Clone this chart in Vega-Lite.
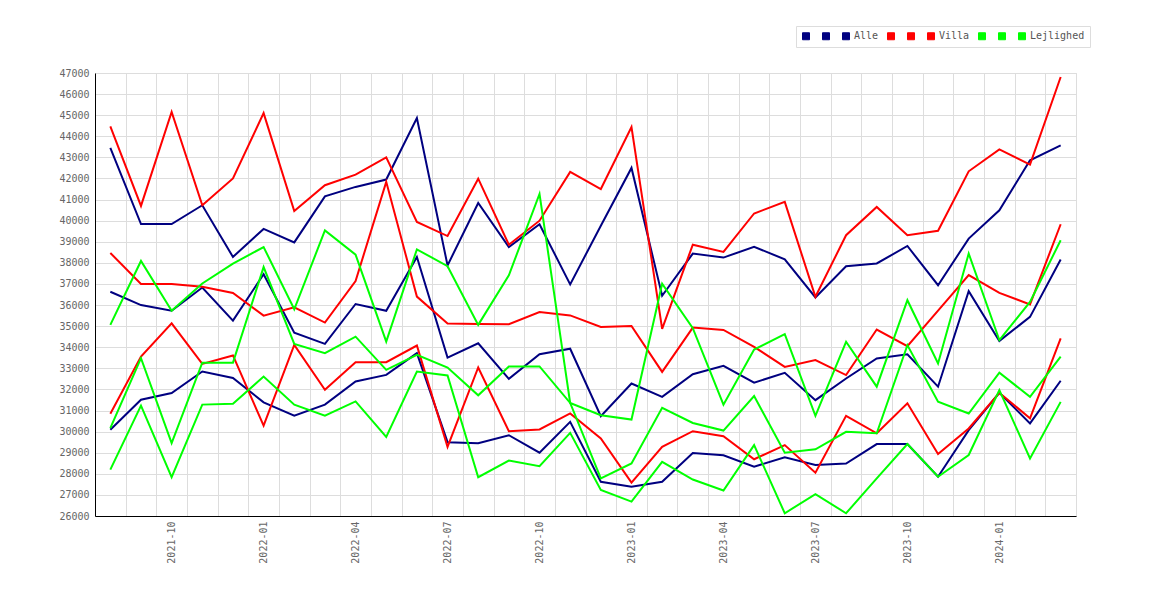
{
  "$schema": "https://vega.github.io/schema/vega-lite/v6.json",
  "width": 981,
  "height": 443,
  "autosize": {"type": "none"},
  "padding": {"left": 95, "top": 73, "right": 94, "bottom": 84},
  "background": "#ffffff",
  "data": {
    "values": [
      {"month": "2021-08", "series": "Alle A", "value": 43450}, {"month": "2021-09", "series": "Alle A", "value": 39840}, {"month": "2021-10", "series": "Alle A", "value": 39840}, {"month": "2021-11", "series": "Alle A", "value": 40730},
      {"month": "2021-12", "series": "Alle A", "value": 38280}, {"month": "2022-01", "series": "Alle A", "value": 39610}, {"month": "2022-02", "series": "Alle A", "value": 38970}, {"month": "2022-03", "series": "Alle A", "value": 41150},
      {"month": "2022-04", "series": "Alle A", "value": 41600}, {"month": "2022-05", "series": "Alle A", "value": 41950}, {"month": "2022-06", "series": "Alle A", "value": 44870}, {"month": "2022-07", "series": "Alle A", "value": 37880},
      {"month": "2022-08", "series": "Alle A", "value": 40840}, {"month": "2022-09", "series": "Alle A", "value": 38750}, {"month": "2022-10", "series": "Alle A", "value": 39830}, {"month": "2022-11", "series": "Alle A", "value": 36980},
      {"month": "2022-12", "series": "Alle A", "value": 39760}, {"month": "2023-01", "series": "Alle A", "value": 42500}, {"month": "2023-02", "series": "Alle A", "value": 36440}, {"month": "2023-03", "series": "Alle A", "value": 38440},
      {"month": "2023-04", "series": "Alle A", "value": 38250}, {"month": "2023-05", "series": "Alle A", "value": 38760}, {"month": "2023-06", "series": "Alle A", "value": 38170}, {"month": "2023-07", "series": "Alle A", "value": 36360},
      {"month": "2023-08", "series": "Alle A", "value": 37840}, {"month": "2023-09", "series": "Alle A", "value": 37970}, {"month": "2023-10", "series": "Alle A", "value": 38800}, {"month": "2023-11", "series": "Alle A", "value": 36940},
      {"month": "2023-12", "series": "Alle A", "value": 39150}, {"month": "2024-01", "series": "Alle A", "value": 40490}, {"month": "2024-02", "series": "Alle A", "value": 42860}, {"month": "2024-03", "series": "Alle A", "value": 43570},

      {"month": "2021-08", "series": "Alle B", "value": 30090}, {"month": "2021-09", "series": "Alle B", "value": 31510}, {"month": "2021-10", "series": "Alle B", "value": 31830}, {"month": "2021-11", "series": "Alle B", "value": 32850},
      {"month": "2021-12", "series": "Alle B", "value": 32540}, {"month": "2022-01", "series": "Alle B", "value": 31390}, {"month": "2022-02", "series": "Alle B", "value": 30760}, {"month": "2022-03", "series": "Alle B", "value": 31280},
      {"month": "2022-04", "series": "Alle B", "value": 32380}, {"month": "2022-05", "series": "Alle B", "value": 32690}, {"month": "2022-06", "series": "Alle B", "value": 33720}, {"month": "2022-07", "series": "Alle B", "value": 29500},
      {"month": "2022-08", "series": "Alle B", "value": 29450}, {"month": "2022-09", "series": "Alle B", "value": 29830}, {"month": "2022-10", "series": "Alle B", "value": 29000}, {"month": "2022-11", "series": "Alle B", "value": 30460},
      {"month": "2022-12", "series": "Alle B", "value": 27620}, {"month": "2023-01", "series": "Alle B", "value": 27390}, {"month": "2023-02", "series": "Alle B", "value": 27620}, {"month": "2023-03", "series": "Alle B", "value": 28990},
      {"month": "2023-04", "series": "Alle B", "value": 28880}, {"month": "2023-05", "series": "Alle B", "value": 28340}, {"month": "2023-06", "series": "Alle B", "value": 28780}, {"month": "2023-07", "series": "Alle B", "value": 28420},
      {"month": "2023-08", "series": "Alle B", "value": 28490}, {"month": "2023-09", "series": "Alle B", "value": 29410}, {"month": "2023-10", "series": "Alle B", "value": 29410}, {"month": "2023-11", "series": "Alle B", "value": 27860},
      {"month": "2023-12", "series": "Alle B", "value": 30070}, {"month": "2024-01", "series": "Alle B", "value": 31840}, {"month": "2024-02", "series": "Alle B", "value": 30390}, {"month": "2024-03", "series": "Alle B", "value": 32410},

      {"month": "2021-08", "series": "Alle", "value": 36630}, {"month": "2021-09", "series": "Alle", "value": 36000}, {"month": "2021-10", "series": "Alle", "value": 35730}, {"month": "2021-11", "series": "Alle", "value": 36830},
      {"month": "2021-12", "series": "Alle", "value": 35260}, {"month": "2022-01", "series": "Alle", "value": 37460}, {"month": "2022-02", "series": "Alle", "value": 34690}, {"month": "2022-03", "series": "Alle", "value": 34160},
      {"month": "2022-04", "series": "Alle", "value": 36050}, {"month": "2022-05", "series": "Alle", "value": 35730}, {"month": "2022-06", "series": "Alle", "value": 38280}, {"month": "2022-07", "series": "Alle", "value": 33510},
      {"month": "2022-08", "series": "Alle", "value": 34190}, {"month": "2022-09", "series": "Alle", "value": 32500}, {"month": "2022-10", "series": "Alle", "value": 33670}, {"month": "2022-11", "series": "Alle", "value": 33930},
      {"month": "2022-12", "series": "Alle", "value": 30730}, {"month": "2023-01", "series": "Alle", "value": 32280}, {"month": "2023-02", "series": "Alle", "value": 31650}, {"month": "2023-03", "series": "Alle", "value": 32720},
      {"month": "2023-04", "series": "Alle", "value": 33120}, {"month": "2023-05", "series": "Alle", "value": 32320}, {"month": "2023-06", "series": "Alle", "value": 32790}, {"month": "2023-07", "series": "Alle", "value": 31490},
      {"month": "2023-08", "series": "Alle", "value": 32520}, {"month": "2023-09", "series": "Alle", "value": 33470}, {"month": "2023-10", "series": "Alle", "value": 33670}, {"month": "2023-11", "series": "Alle", "value": 32130},
      {"month": "2023-12", "series": "Alle", "value": 36660}, {"month": "2024-01", "series": "Alle", "value": 34300}, {"month": "2024-02", "series": "Alle", "value": 35440}, {"month": "2024-03", "series": "Alle", "value": 38160},

      {"month": "2021-08", "series": "Villa A", "value": 44470}, {"month": "2021-09", "series": "Villa A", "value": 40700}, {"month": "2021-10", "series": "Villa A", "value": 45150}, {"month": "2021-11", "series": "Villa A", "value": 40730},
      {"month": "2021-12", "series": "Villa A", "value": 42000}, {"month": "2022-01", "series": "Villa A", "value": 45100}, {"month": "2022-02", "series": "Villa A", "value": 40460}, {"month": "2022-03", "series": "Villa A", "value": 41680},
      {"month": "2022-04", "series": "Villa A", "value": 42180}, {"month": "2022-05", "series": "Villa A", "value": 43000}, {"month": "2022-06", "series": "Villa A", "value": 39940}, {"month": "2022-07", "series": "Villa A", "value": 39270},
      {"month": "2022-08", "series": "Villa A", "value": 41990}, {"month": "2022-09", "series": "Villa A", "value": 38860}, {"month": "2022-10", "series": "Villa A", "value": 40000}, {"month": "2022-11", "series": "Villa A", "value": 42310},
      {"month": "2022-12", "series": "Villa A", "value": 41500}, {"month": "2023-01", "series": "Villa A", "value": 44440}, {"month": "2023-02", "series": "Villa A", "value": 34870}, {"month": "2023-03", "series": "Villa A", "value": 38860},
      {"month": "2023-04", "series": "Villa A", "value": 38520}, {"month": "2023-05", "series": "Villa A", "value": 40340}, {"month": "2023-06", "series": "Villa A", "value": 40890}, {"month": "2023-07", "series": "Villa A", "value": 36390},
      {"month": "2023-08", "series": "Villa A", "value": 39310}, {"month": "2023-09", "series": "Villa A", "value": 40650}, {"month": "2023-10", "series": "Villa A", "value": 39310}, {"month": "2023-11", "series": "Villa A", "value": 39520},
      {"month": "2023-12", "series": "Villa A", "value": 42340}, {"month": "2024-01", "series": "Villa A", "value": 43380}, {"month": "2024-02", "series": "Villa A", "value": 42660}, {"month": "2024-03", "series": "Villa A", "value": 46810},

      {"month": "2021-08", "series": "Villa B", "value": 30850}, {"month": "2021-09", "series": "Villa B", "value": 33560}, {"month": "2021-10", "series": "Villa B", "value": 35130}, {"month": "2021-11", "series": "Villa B", "value": 33210},
      {"month": "2021-12", "series": "Villa B", "value": 33610}, {"month": "2022-01", "series": "Villa B", "value": 30280}, {"month": "2022-02", "series": "Villa B", "value": 34110}, {"month": "2022-03", "series": "Villa B", "value": 31980},
      {"month": "2022-04", "series": "Villa B", "value": 33290}, {"month": "2022-05", "series": "Villa B", "value": 33290}, {"month": "2022-06", "series": "Villa B", "value": 34080}, {"month": "2022-07", "series": "Villa B", "value": 29280},
      {"month": "2022-08", "series": "Villa B", "value": 33040}, {"month": "2022-09", "series": "Villa B", "value": 30020}, {"month": "2022-10", "series": "Villa B", "value": 30100}, {"month": "2022-11", "series": "Villa B", "value": 30860},
      {"month": "2022-12", "series": "Villa B", "value": 29680}, {"month": "2023-01", "series": "Villa B", "value": 27580}, {"month": "2023-02", "series": "Villa B", "value": 29280}, {"month": "2023-03", "series": "Villa B", "value": 30020},
      {"month": "2023-04", "series": "Villa B", "value": 29780}, {"month": "2023-05", "series": "Villa B", "value": 28690}, {"month": "2023-06", "series": "Villa B", "value": 29360}, {"month": "2023-07", "series": "Villa B", "value": 28050},
      {"month": "2023-08", "series": "Villa B", "value": 30750}, {"month": "2023-09", "series": "Villa B", "value": 29920}, {"month": "2023-10", "series": "Villa B", "value": 31340}, {"month": "2023-11", "series": "Villa B", "value": 28940},
      {"month": "2023-12", "series": "Villa B", "value": 30150}, {"month": "2024-01", "series": "Villa B", "value": 31840}, {"month": "2024-02", "series": "Villa B", "value": 30630}, {"month": "2024-03", "series": "Villa B", "value": 34420},

      {"month": "2021-08", "series": "Villa", "value": 38470}, {"month": "2021-09", "series": "Villa", "value": 37000}, {"month": "2021-10", "series": "Villa", "value": 37000}, {"month": "2021-11", "series": "Villa", "value": 36870},
      {"month": "2021-12", "series": "Villa", "value": 36570}, {"month": "2022-01", "series": "Villa", "value": 35500}, {"month": "2022-02", "series": "Villa", "value": 35890}, {"month": "2022-03", "series": "Villa", "value": 35170},
      {"month": "2022-04", "series": "Villa", "value": 37140}, {"month": "2022-05", "series": "Villa", "value": 41840}, {"month": "2022-06", "series": "Villa", "value": 36400}, {"month": "2022-07", "series": "Villa", "value": 35130},
      {"month": "2022-08", "series": "Villa", "value": 35100}, {"month": "2022-09", "series": "Villa", "value": 35090}, {"month": "2022-10", "series": "Villa", "value": 35670}, {"month": "2022-11", "series": "Villa", "value": 35510},
      {"month": "2022-12", "series": "Villa", "value": 34960}, {"month": "2023-01", "series": "Villa", "value": 35010}, {"month": "2023-02", "series": "Villa", "value": 32830}, {"month": "2023-03", "series": "Villa", "value": 34930},
      {"month": "2023-04", "series": "Villa", "value": 34820}, {"month": "2023-05", "series": "Villa", "value": 34020}, {"month": "2023-06", "series": "Villa", "value": 33070}, {"month": "2023-07", "series": "Villa", "value": 33390},
      {"month": "2023-08", "series": "Villa", "value": 32680}, {"month": "2023-09", "series": "Villa", "value": 34840}, {"month": "2023-10", "series": "Villa", "value": 34050}, {"month": "2023-11", "series": "Villa", "value": 35740},
      {"month": "2023-12", "series": "Villa", "value": 37420}, {"month": "2024-01", "series": "Villa", "value": 36580}, {"month": "2024-02", "series": "Villa", "value": 36030}, {"month": "2024-03", "series": "Villa", "value": 39830},

      {"month": "2021-08", "series": "Lejlighed A", "value": 35060}, {"month": "2021-09", "series": "Lejlighed A", "value": 38090}, {"month": "2021-10", "series": "Lejlighed A", "value": 35730}, {"month": "2021-11", "series": "Lejlighed A", "value": 37020},
      {"month": "2021-12", "series": "Lejlighed A", "value": 37960}, {"month": "2022-01", "series": "Lejlighed A", "value": 38750}, {"month": "2022-02", "series": "Lejlighed A", "value": 35800}, {"month": "2022-03", "series": "Lejlighed A", "value": 39540},
      {"month": "2022-04", "series": "Lejlighed A", "value": 38390}, {"month": "2022-05", "series": "Lejlighed A", "value": 34270}, {"month": "2022-06", "series": "Lejlighed A", "value": 38640}, {"month": "2022-07", "series": "Lejlighed A", "value": 37840},
      {"month": "2022-08", "series": "Lejlighed A", "value": 35060}, {"month": "2022-09", "series": "Lejlighed A", "value": 37410}, {"month": "2022-10", "series": "Lejlighed A", "value": 41270}, {"month": "2022-11", "series": "Lejlighed A", "value": 31360},
      {"month": "2022-12", "series": "Lejlighed A", "value": 30780}, {"month": "2023-01", "series": "Lejlighed A", "value": 30570}, {"month": "2023-02", "series": "Lejlighed A", "value": 37010}, {"month": "2023-03", "series": "Lejlighed A", "value": 34900},
      {"month": "2023-04", "series": "Lejlighed A", "value": 31280}, {"month": "2023-05", "series": "Lejlighed A", "value": 33890}, {"month": "2023-06", "series": "Lejlighed A", "value": 34620}, {"month": "2023-07", "series": "Lejlighed A", "value": 30750},
      {"month": "2023-08", "series": "Lejlighed A", "value": 34260}, {"month": "2023-09", "series": "Lejlighed A", "value": 32130}, {"month": "2023-10", "series": "Lejlighed A", "value": 36230}, {"month": "2023-11", "series": "Lejlighed A", "value": 33230},
      {"month": "2023-12", "series": "Lejlighed A", "value": 38440}, {"month": "2024-01", "series": "Lejlighed A", "value": 34340}, {"month": "2024-02", "series": "Lejlighed A", "value": 36150}, {"month": "2024-03", "series": "Lejlighed A", "value": 39070},

      {"month": "2021-08", "series": "Lejlighed B", "value": 28200}, {"month": "2021-09", "series": "Lejlighed B", "value": 31230}, {"month": "2021-10", "series": "Lejlighed B", "value": 27840}, {"month": "2021-11", "series": "Lejlighed B", "value": 31280},
      {"month": "2021-12", "series": "Lejlighed B", "value": 31320}, {"month": "2022-01", "series": "Lejlighed B", "value": 32610}, {"month": "2022-02", "series": "Lejlighed B", "value": 31280}, {"month": "2022-03", "series": "Lejlighed B", "value": 30760},
      {"month": "2022-04", "series": "Lejlighed B", "value": 31430}, {"month": "2022-05", "series": "Lejlighed B", "value": 29750}, {"month": "2022-06", "series": "Lejlighed B", "value": 32850}, {"month": "2022-07", "series": "Lejlighed B", "value": 32660},
      {"month": "2022-08", "series": "Lejlighed B", "value": 27840}, {"month": "2022-09", "series": "Lejlighed B", "value": 28630}, {"month": "2022-10", "series": "Lejlighed B", "value": 28360}, {"month": "2022-11", "series": "Lejlighed B", "value": 29940},
      {"month": "2022-12", "series": "Lejlighed B", "value": 27230}, {"month": "2023-01", "series": "Lejlighed B", "value": 26680}, {"month": "2023-02", "series": "Lejlighed B", "value": 28570}, {"month": "2023-03", "series": "Lejlighed B", "value": 27730},
      {"month": "2023-04", "series": "Lejlighed B", "value": 27210}, {"month": "2023-05", "series": "Lejlighed B", "value": 29360}, {"month": "2023-06", "series": "Lejlighed B", "value": 26130}, {"month": "2023-07", "series": "Lejlighed B", "value": 27040},
      {"month": "2023-08", "series": "Lejlighed B", "value": 26130}, {"month": "2023-09", "series": "Lejlighed B", "value": 27780}, {"month": "2023-10", "series": "Lejlighed B", "value": 29410}, {"month": "2023-11", "series": "Lejlighed B", "value": 27860},
      {"month": "2023-12", "series": "Lejlighed B", "value": 28890}, {"month": "2024-01", "series": "Lejlighed B", "value": 31970}, {"month": "2024-02", "series": "Lejlighed B", "value": 28730}, {"month": "2024-03", "series": "Lejlighed B", "value": 31410},

      {"month": "2021-08", "series": "Lejlighed", "value": 30170}, {"month": "2021-09", "series": "Lejlighed", "value": 33480}, {"month": "2021-10", "series": "Lejlighed", "value": 29460}, {"month": "2021-11", "series": "Lejlighed", "value": 33270},
      {"month": "2021-12", "series": "Lejlighed", "value": 33270}, {"month": "2022-01", "series": "Lejlighed", "value": 37800}, {"month": "2022-02", "series": "Lejlighed", "value": 34160}, {"month": "2022-03", "series": "Lejlighed", "value": 33720},
      {"month": "2022-04", "series": "Lejlighed", "value": 34500}, {"month": "2022-05", "series": "Lejlighed", "value": 32930}, {"month": "2022-06", "series": "Lejlighed", "value": 33640}, {"month": "2022-07", "series": "Lejlighed", "value": 33040},
      {"month": "2022-08", "series": "Lejlighed", "value": 31720}, {"month": "2022-09", "series": "Lejlighed", "value": 33090}, {"month": "2022-10", "series": "Lejlighed", "value": 33090}, {"month": "2022-11", "series": "Lejlighed", "value": 31360},
      {"month": "2022-12", "series": "Lejlighed", "value": 27780}, {"month": "2023-01", "series": "Lejlighed", "value": 28490}, {"month": "2023-02", "series": "Lejlighed", "value": 31130}, {"month": "2023-03", "series": "Lejlighed", "value": 30410},
      {"month": "2023-04", "series": "Lejlighed", "value": 30050}, {"month": "2023-05", "series": "Lejlighed", "value": 31690}, {"month": "2023-06", "series": "Lejlighed", "value": 29000}, {"month": "2023-07", "series": "Lejlighed", "value": 29160},
      {"month": "2023-08", "series": "Lejlighed", "value": 29990}, {"month": "2023-09", "series": "Lejlighed", "value": 29920}, {"month": "2023-10", "series": "Lejlighed", "value": 34100}, {"month": "2023-11", "series": "Lejlighed", "value": 31420},
      {"month": "2023-12", "series": "Lejlighed", "value": 30860}, {"month": "2024-01", "series": "Lejlighed", "value": 32790}, {"month": "2024-02", "series": "Lejlighed", "value": 31650}, {"month": "2024-03", "series": "Lejlighed", "value": 33550}
    ]
  },
  "mark": {"type": "line", "strokeWidth": 2},
  "encoding": {
    "x": {
      "field": "month",
      "type": "ordinal",
      "title": null,
      "scale": {"type": "band", "paddingInner": 0, "paddingOuter": 0},
      "axis": {
        "grid": true,
        "tickBand": "extent",
        "ticks": false,
        "labelAngle": -90,
        "labelPadding": 5,
        "labelExpr": "test(/-(01|04|07|10)$/, datum.value) ? datum.value : ''"
      }
    },
    "y": {
      "field": "value",
      "type": "quantitative",
      "title": null,
      "scale": {"domain": [26000, 47000], "nice": false, "zero": false},
      "axis": {
        "values": [26000, 27000, 28000, 29000, 30000, 31000, 32000, 33000, 34000, 35000, 36000, 37000, 38000, 39000, 40000, 41000, 42000, 43000, 44000, 45000, 46000, 47000],
        "format": "d",
        "ticks": false,
        "labelPadding": 6
      }
    },
    "color": {
      "field": "series",
      "type": "nominal",
      "scale": {
        "domain": ["Alle A", "Alle B", "Alle", "Villa A", "Villa B", "Villa", "Lejlighed A", "Lejlighed B", "Lejlighed"],
        "range": ["#000080", "#000080", "#000080", "#ff0000", "#ff0000", "#ff0000", "#00ff00", "#00ff00", "#00ff00"]
      },
      "legend": {
        "title": null,
        "orient": "none",
        "legendX": 701,
        "legendY": -47,
        "direction": "horizontal",
        "symbolType": "square",
        "symbolSize": 49,
        "symbolStrokeWidth": 1,
        "symbolOpacity": 1,
        "labelOffset": 3,
        "columnPadding": 6,
        "padding": 5,
        "strokeColor": "#dddddd",
        "labelExpr": "test(/ [AB]$/, datum.label) ? ' ' : datum.label",
        "encode": {
          "symbols": {
            "update": {
              "fill": {"scale": "color", "field": "value"},
              "stroke": {"value": "#555555"},
              "fillOpacity": {"value": 1}
            }
          }
        }
      }
    }
  },
  "config": {
    "view": {"stroke": "#dddddd"},
    "font": "DejaVu Sans Mono",
    "axis": {
      "labelFont": "DejaVu Sans Mono",
      "labelFontSize": 10,
      "labelColor": "#666666",
      "domainColor": "#000000",
      "domainWidth": 1,
      "gridColor": "#dddddd",
      "gridWidth": 1
    },
    "legend": {
      "labelFont": "DejaVu Sans Mono",
      "labelFontSize": 10,
      "labelColor": "#555555"
    }
  }
}
